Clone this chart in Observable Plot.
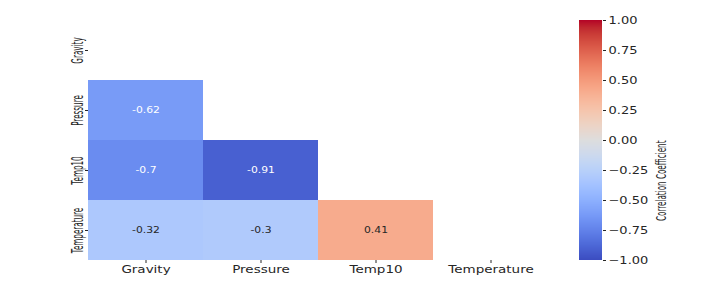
<!DOCTYPE html>
<html>
<head>
<meta charset="utf-8">
<script src="https://cdn.jsdelivr.net/npm/d3@7"></script>
<script src="https://cdn.jsdelivr.net/npm/@observablehq/plot@0.6"></script>
<style>
  html, body { margin: 0; padding: 0; background: white; }
  #wrap { position: relative; width: 725px; height: 285px; }
  #wrap svg { position: absolute; left: 0; top: 0; background: transparent; }
</style>
</head>
<body>
<div id="wrap"></div>
<script>
// ---- data ----
const variables = ["Gravity", "Pressure", "Temp10", "Temperature"];
const rowVar = ["Pressure", "Temp10", "Temp10", "Temperature", "Temperature", "Temperature"];
const colVar = ["Gravity", "Gravity", "Pressure", "Gravity", "Pressure", "Temp10"];
const corrValues = [-0.62, -0.7, -0.91, -0.32, -0.3, 0.41];
const corrLabels = ["-0.62", "-0.7", "-0.91", "-0.32", "-0.3", "0.41"];
const colorbarTicks = [-1, -0.75, -0.5, -0.25, 0, 0.25, 0.5, 0.75, 1];
const colorbarLabel = "Correlation Coefficient";

// matplotlib "coolwarm" colour stops
const coolwarmStops = [
  [59,76,192],[68,90,204],[77,104,215],[87,117,225],[98,130,234],[108,142,241],
  [119,154,247],[130,165,251],[141,176,254],[152,185,255],[163,194,255],[174,201,253],
  [184,208,249],[194,213,244],[204,217,238],[213,219,230],[221,221,221],[229,216,209],
  [236,211,197],[241,204,184],[245,196,172],[247,187,160],[247,177,148],[247,166,135],
  [244,154,123],[241,141,111],[236,127,99],[229,112,88],[222,96,77],[213,80,66],
  [203,62,56],[192,40,47],[180,4,38]
].map(c => `rgb(${c[0]},${c[1]},${c[2]})`);
const coolwarm = d3.piecewise(d3.interpolateRgb, coolwarmStops);

const cells = corrValues.map((v, i) => ({row: rowVar[i], col: colVar[i], v, label: corrLabels[i]}));
const colorScale = {type: "linear", domain: [-1, 1], interpolate: coolwarm};
const font = "DejaVu Sans";

const main = Plot.plot({
  width: 725, height: 285,
  marginLeft: 88, marginRight: 177, marginTop: 20, marginBottom: 25,
  x: {domain: variables, padding: 0, label: null},
  y: {domain: variables, padding: 0, label: null},
  color: colorScale,
  style: {fontFamily: font, background: "white", color: "#262626"},
  marks: [
    Plot.cell(cells, {x: "col", y: "row", fill: "v", inset: 0}),
    Plot.text(cells, {
      x: "col", y: "row",
      text: "label",
      fill: d => d.v < -0.5 ? "white" : "#262626",
      fontSize: 8
    }),
    Plot.axisX({tickSize: 3, tickPadding: 2, fontSize: 10, label: null}),
    Plot.axisY({tickSize: 3, tickPadding: 3, tickRotate: -90, fontSize: 12, label: null})
  ]
});

const nSteps = 240;
const gradSteps = d3.range(0, nSteps).map(i => -1 + i * 2 / nSteps);
const bar = Plot.plot({
  width: 725, height: 285,
  marginLeft: 579, marginRight: 123, marginTop: 20, marginBottom: 25,
  x: {domain: [0, 1], axis: null},
  y: {domain: [-1, 1], label: null},
  color: colorScale,
  style: {fontFamily: font, background: "transparent", color: "#262626"},
  marks: [
    Plot.rect(gradSteps, {x1: 0, x2: 1, y1: d => d, y2: d => d + 2 / nSteps,
                          fill: d => d + 1 / nSteps, shapeRendering: "crispEdges"}),
    Plot.axisY({anchor: "right", ticks: colorbarTicks, tickFormat: d3.format(".2f"),
                tickSize: 3, tickPadding: 3, fontSize: 10, label: null}),
    Plot.text([colorbarLabel], {frameAnchor: "right", dx: 59, rotate: -90, fontSize: 12, text: d => d})
  ]
});

const wrap = document.getElementById("wrap");
wrap.appendChild(main);
wrap.appendChild(bar);

// stretch glyphs to mimic the reference's aspect
function stretch(nodes, sx, sy) {
  nodes.forEach(node => {
    let t = node.getAttribute("transform") || "";
    const xa = node.getAttribute("x"), ya = node.getAttribute("y");
    const xn = xa !== null && !isNaN(+xa) ? +xa : 0;
    const yn = ya !== null && !isNaN(+ya) ? +ya : 0;
    if (xn || yn) {
      t = t + ` translate(${xn},${yn})`;
      if (xa !== null && !isNaN(+xa)) node.removeAttribute("x");
      if (ya !== null && !isNaN(+ya)) node.removeAttribute("y");
    }
    node.setAttribute("transform", (t + ` scale(${sx},${sy})`).trim());
  });
}
const q = (svg, label) => Array.from(svg.querySelectorAll(`g[aria-label="${label}"] text`));
stretch(q(main, "x-axis tick label"), 1.35, 1);
stretch(q(main, "y-axis tick label"), 0.6, 1.25);
stretch(q(main, "text"), 1.35, 1);
stretch(q(bar, "y-axis tick label"), 1.3, 1);
stretch(q(bar, "text"), 0.6, 1.1);
</script>
</body>
</html>
